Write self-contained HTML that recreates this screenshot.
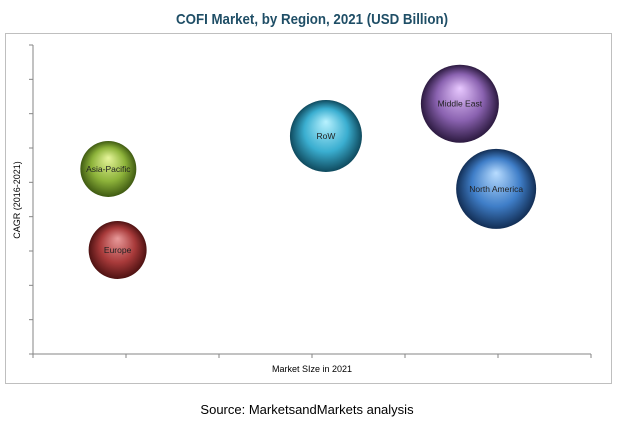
<!DOCTYPE html>
<html><head><meta charset="utf-8"><style>
body{margin:0;background:#fff;width:619px;height:423px;overflow:hidden;font-family:"Liberation Sans",sans-serif}
</style></head><body>
<svg width="619" height="423" xmlns="http://www.w3.org/2000/svg">
<defs id="defs"></defs>
<text x="312" y="24" text-anchor="middle" font-family="Liberation Sans Narrow, Liberation Sans, sans-serif" font-weight="bold" font-size="15" fill="#1f4e66" textLength="272" lengthAdjust="spacingAndGlyphs">COFI Market, by Region, 2021 (USD Billion)</text>
<rect x="5.5" y="33.5" width="606" height="350" fill="#fff" stroke="#bfbfbf"/>
<g id="axes"></g>
<g id="bubbles"></g>
<text x="20" y="200" transform="rotate(-90 20 200)" text-anchor="middle" font-size="9" fill="#000">CAGR (2016-2021)</text>
<text x="312" y="372" text-anchor="middle" font-size="9" fill="#000">Market SIze in 2021</text>
<text x="307" y="414" text-anchor="middle" font-size="13" fill="#000">Source: MarketsandMarkets analysis</text>
</svg>
<script>
const regions=["Asia-Pacific","Europe","RoW","Middle East","North America"];
const marketSize=[0.81,0.91,3.15,4.59,4.98];
const cagr=[5.39,3.03,6.35,7.29,4.81];
const bubbleSize=[28,29,36,39,40];
const colors=[["#e6f59a","#8db33a","#3f5a12"],["#e89a9a","#a83a3a","#4e1212"],["#b8f2ff","#3aaed0","#0f4a5e"],["#e8c8ff","#8a62b0","#2c1a40"],["#b8dcff","#3f7ec8","#122e55"]];
const NS="http://www.w3.org/2000/svg";
const X0=33,X1=591,Y0=354,Y1=45,XMAX=6,YMAX=9;
const sx=v=>X0+(X1-X0)*v/XMAX, sy=v=>Y0-(Y0-Y1)*v/YMAX;
const axes=document.getElementById('axes'),defs=document.getElementById('defs'),bg=document.getElementById('bubbles');
function mk(t,a,p){const e=document.createElementNS(NS,t);for(const k in a)e.setAttribute(k,a[k]);p.appendChild(e);return e;}
const ya=mk('line',{x1:X0,y1:Y1,x2:X0,y2:Y0,stroke:'#868686'},axes);


const xa=mk('line',{x1:X0,y1:Y0,x2:X1,y2:Y0,stroke:'#868686'},axes);


for(let i=0;i<=YMAX;i++){const t=mk('line',{x1:X0-4,y1:sy(i),x2:X0,y2:sy(i),stroke:'#868686'},axes);

}
for(let i=0;i<=XMAX;i++){const t=mk('line',{x1:sx(i),y1:Y0,x2:sx(i),y2:Y0+4,stroke:'#868686'},axes);

}
regions.forEach((r,i)=>{
 const g=mk('radialGradient',{id:'g'+i,cx:'0.5',cy:'0.5',r:'0.5',fx:'0.5',fy:'0.3'},defs);
 mk('stop',{offset:'0','stop-color':colors[i][0]},g);
 mk('stop',{offset:'0.6','stop-color':colors[i][1]},g);
 mk('stop',{offset:'1','stop-color':colors[i][2]},g);
 const c=mk('circle',{cx:sx(marketSize[i]),cy:sy(cagr[i]),r:bubbleSize[i],fill:'url(#g'+i+')'},bg);
 
 
 const t=mk('text',{x:sx(marketSize[i]),y:sy(cagr[i])+3,'text-anchor':'middle','font-size':'8.5',fill:'#222'},bg);
 t.textContent=r;
 
 
});
</script>
</body></html>
